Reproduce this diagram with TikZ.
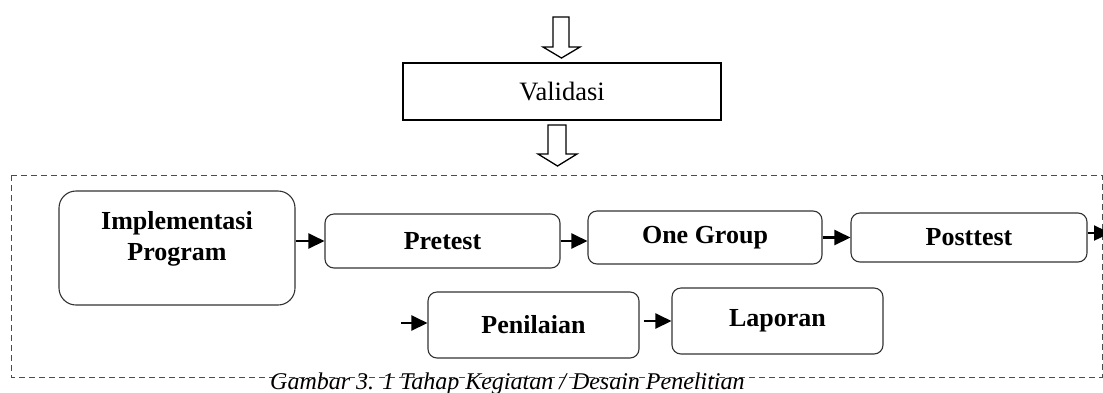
\documentclass[tikz,border=0pt]{standalone}
\usepackage{fontspec}
\setmainfont{Liberation Serif}
\usetikzlibrary{arrows.meta}
\begin{document}
\begin{tikzpicture}[x=1pt,y=-1pt,
  rbox/.style={draw=black!80, line width=1.1pt, rounded corners=9pt, inner sep=0pt,
    font=\fontsize{26}{30}\selectfont\bfseries},
  flow/.style={line width=2.4pt, -{Triangle[length=16pt,width=15pt]}},
  blockarrow/.style={draw, line width=1.3pt, fill=white, line join=miter},
  dashbox/.style={draw=black!70, line width=1pt, dash pattern=on 6pt off 4pt}]
\useasboundingbox (0,0) rectangle (1103,392);

% dashed frame
\draw[dashbox] (11,175) rectangle (1102,377);

% caption
\node[anchor=base west, inner sep=0pt, font=\fontsize{24}{28}\selectfont\itshape] (cap) at (270,389)
  {Gambar 3. 1 Tahap Kegiatan / Desain Penelitian};

% Validasi
\node[draw, line width=1.3pt, minimum width=318pt, minimum height=57pt, inner sep=0pt,
  font=\fontsize{26.5}{30}\selectfont] (val) at (562,91.5) {Validasi};

% block arrows
\draw[blockarrow] (553,17) -- (569,17) -- (569,47) -- (580,47) -- (561.5,58) -- (543,47) -- (553,47) -- cycle;
\draw[blockarrow] (548,125) -- (566,125) -- (566,154) -- (577,154) -- (557.5,166) -- (538,154) -- (548,154) -- cycle;

% boxes
\node[rbox, rounded corners=17pt, minimum width=236pt, minimum height=114pt] (impl) at (177,248) {};
\node[align=center, inner sep=0pt, font=\fontsize{26}{31}\selectfont\bfseries] (impltxt) at (177,239) {Implementasi\\Program};
\node[rbox, minimum width=235pt, minimum height=54pt] (pre) at (442.5,241) {Pretest};
\node[rbox, minimum width=234pt, minimum height=53pt] (og) at (705,237.5) {One Group};
\node[rbox, minimum width=236pt, minimum height=49pt] (post) at (969,237.5) {Posttest};
\node[rbox, minimum width=211pt, minimum height=66pt] (pen) at (533.5,325) {Penilaian};
\node[rbox, minimum width=211pt, minimum height=66pt] (lap) at (777.5,321) {Laporan};

\coordinate (out) at (1110,233);
\coordinate (in) at (401,323);

% connectors
\draw[flow] (impl.east |- pre.west) -- (pre.west);
\draw[flow] (pre.east) -- (pre.east -| og.west);
\draw[flow] (og.east) -- (og.east -| post.west);
\draw[flow] (post.east |- out) -- (out);
\draw[flow] (in) -- (in -| pen.west);
\draw[flow, shorten <=4pt] (pen.east |- lap.west) -- (lap.west);
\end{tikzpicture}
\end{document}
